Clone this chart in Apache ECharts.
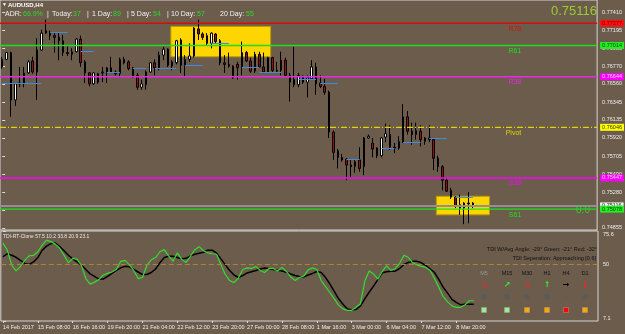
<!DOCTYPE html>
<html>
<head>
<meta charset="utf-8">
<script src="https://cdn.jsdelivr.net/npm/echarts@6/dist/echarts.min.js"></script>
<style>
  html, body { margin: 0; padding: 0; background: #6c5c4c; }
  #chart { width: 625px; height: 334px; }
</style>
</head>
<body>
<div id="chart"></div>
<script>
// AUDUSD H4 candles, 14 Feb 2017 00:00 .. 9 Mar 2017 12:00
const opens = [
  0.7676, 0.7685, 0.7693, 0.7637, 0.7656, 0.7656, 0.7669, 0.7683, 0.7670, 0.7696,
  0.7716, 0.7717, 0.7713, 0.7711, 0.7707, 0.7693, 0.7691, 0.7694, 0.7709, 0.7682,
  0.7669, 0.7656, 0.7668, 0.7669, 0.7670, 0.7675, 0.7670, 0.7668, 0.7685, 0.7682,
  0.7675, 0.7666, 0.7652, 0.7655, 0.7670, 0.7681, 0.7675, 0.7690, 0.7697, 0.7677,
  0.7681, 0.7708, 0.7678, 0.7685, 0.7689, 0.7721, 0.7715, 0.7713, 0.7704, 0.7715,
  0.7707, 0.7681, 0.7679, 0.7677, 0.7679, 0.7676, 0.7693, 0.7683, 0.7671, 0.7691,
  0.7676, 0.7670, 0.7687, 0.7672, 0.7672, 0.7684, 0.7666, 0.7661, 0.7655, 0.7665,
  0.7658, 0.7662, 0.7676, 0.7657, 0.7653, 0.7646, 0.7599, 0.7577, 0.7569, 0.7567,
  0.7560, 0.7558, 0.7566, 0.7558, 0.7592, 0.7586, 0.7580, 0.7571, 0.7593, 0.7596,
  0.7581, 0.7580, 0.7587, 0.7617, 0.7600, 0.7596, 0.7600, 0.7588, 0.7592, 0.7590,
  0.7568, 0.7558, 0.7542, 0.7530, 0.7522, 0.7513, 0.7509, 0.7515, 0.7515
];
const closes = [
  0.7685, 0.7693, 0.7637, 0.7656, 0.7657, 0.7669, 0.7682, 0.7670, 0.7696, 0.7716,
  0.7719, 0.7713, 0.7711, 0.7707, 0.7693, 0.7692, 0.7694, 0.7709, 0.7681, 0.7669,
  0.7656, 0.7669, 0.7658, 0.7670, 0.7675, 0.7670, 0.7668, 0.7685, 0.7681, 0.7674,
  0.7664, 0.7652, 0.7656, 0.7670, 0.7681, 0.7675, 0.7690, 0.7697, 0.7678, 0.7682,
  0.7707, 0.7678, 0.7685, 0.7689, 0.7722, 0.7715, 0.7711, 0.7704, 0.7716, 0.7706,
  0.7681, 0.7679, 0.7677, 0.7663, 0.7675, 0.7693, 0.7683, 0.7671, 0.7691, 0.7676,
  0.7670, 0.7687, 0.7672, 0.7671, 0.7684, 0.7666, 0.7658, 0.7655, 0.7666, 0.7658,
  0.7663, 0.7676, 0.7656, 0.7653, 0.7646, 0.7599, 0.7575, 0.7569, 0.7566, 0.7560,
  0.7558, 0.7564, 0.7556, 0.7592, 0.7594, 0.7579, 0.7571, 0.7592, 0.7597, 0.7581,
  0.7580, 0.7588, 0.7617, 0.7600, 0.7596, 0.7601, 0.7590, 0.7592, 0.7590, 0.7568,
  0.7558, 0.7542, 0.7529, 0.7522, 0.7512, 0.7509, 0.7515, 0.7514, 0.75116
];
const lows = [
  0.7674, 0.7684, 0.7617, 0.7630, 0.7652, 0.7652, 0.7668, 0.7668, 0.7637, 0.7695,
  0.7715, 0.7708, 0.7693, 0.7684, 0.7689, 0.7689, 0.7684, 0.7693, 0.7676, 0.7657,
  0.7653, 0.7655, 0.7656, 0.7658, 0.7657, 0.7669, 0.7666, 0.7664, 0.7679, 0.7672,
  0.7663, 0.7649, 0.7649, 0.7649, 0.7669, 0.7666, 0.7672, 0.7684, 0.7676, 0.7672,
  0.7679, 0.7669, 0.7664, 0.7682, 0.7687, 0.7708, 0.7708, 0.7702, 0.7698, 0.7704,
  0.7678, 0.7669, 0.7675, 0.7662, 0.7661, 0.7666, 0.7682, 0.7669, 0.7669, 0.7675,
  0.7669, 0.7669, 0.7670, 0.7669, 0.7666, 0.7664, 0.7635, 0.7652, 0.7652, 0.7656,
  0.7640, 0.7661, 0.7643, 0.7651, 0.7643, 0.7592, 0.7566, 0.7556, 0.7564, 0.7542,
  0.7545, 0.7551, 0.7552, 0.7548, 0.7591, 0.7569, 0.7568, 0.7569, 0.7587, 0.7578,
  0.7574, 0.7578, 0.7586, 0.7596, 0.7584, 0.7590, 0.7582, 0.7584, 0.7587, 0.7554,
  0.7552, 0.7530, 0.7528, 0.7520, 0.7509, 0.7501, 0.7490, 0.7491, 0.7509
];
const highs = [
  0.7688, 0.7694, 0.7694, 0.7657, 0.7676, 0.7676, 0.7684, 0.7688, 0.7710, 0.7720,
  0.7732, 0.7719, 0.7716, 0.7717, 0.7714, 0.7702, 0.7698, 0.7710, 0.7713, 0.7684,
  0.7670, 0.7670, 0.7669, 0.7676, 0.7676, 0.7688, 0.7672, 0.7687, 0.7688, 0.7684,
  0.7676, 0.7669, 0.7661, 0.7672, 0.7682, 0.7685, 0.7694, 0.7700, 0.7698, 0.7684,
  0.7708, 0.7710, 0.7690, 0.7704, 0.7723, 0.7732, 0.7717, 0.7716, 0.7717, 0.7716,
  0.7709, 0.7690, 0.7693, 0.7678, 0.7682, 0.7706, 0.7695, 0.7687, 0.7694, 0.7694,
  0.7693, 0.7688, 0.7688, 0.7682, 0.7694, 0.7687, 0.7669, 0.7700, 0.7669, 0.7666,
  0.7666, 0.7684, 0.7681, 0.7666, 0.7662, 0.7648, 0.7601, 0.7579, 0.7573, 0.7568,
  0.7566, 0.7566, 0.7581, 0.7593, 0.7596, 0.7592, 0.7581, 0.7593, 0.7609, 0.7607,
  0.7586, 0.7594, 0.7632, 0.7624, 0.7610, 0.7610, 0.7607, 0.7593, 0.7607, 0.7592,
  0.7571, 0.7560, 0.7545, 0.7533, 0.7523, 0.7525, 0.7516, 0.7528, 0.7516
];

// TDI sub-window: green price line and black signal line
const tdiGreen = [
  66.4, 60.9, 49.7, 45.2, 48.6, 53.3, 56.7, 57.1, 59.8, 64.8,
  68.7, 67.5, 65.6, 62.5, 57.1, 51.4, 54.8, 54.0, 49.4, 39.4,
  35.2, 36.7, 38.6, 42.1, 43.3, 44.4, 46.3, 52.5, 53.3, 49.8,
  45.6, 39.4, 40.2, 49.4, 53.7, 55.4, 59.8, 61.4, 56.7, 52.5,
  59.0, 54.0, 51.7, 56.4, 61.4, 63.7, 60.6, 59.0, 58.3, 57.9,
  49.8, 42.5, 37.9, 36.3, 39.8, 46.3, 47.5, 47.1, 48.7, 45.6,
  44.0, 47.1, 47.1, 45.2, 47.9, 44.8, 40.6, 37.9, 40.2, 41.3,
  46.0, 47.5, 46.3, 37.9, 33.3, 28.6, 24.0, 19.0, 16.3, 15.2,
  15.2, 17.5, 20.2, 37.5, 45.2, 42.9, 39.0, 44.8, 49.0, 45.6,
  47.1, 51.0, 57.1, 55.4, 51.4, 49.8, 48.7, 47.9, 45.6, 39.4,
  32.5, 25.6, 21.7, 18.6, 17.5, 17.5, 19.4, 22.5, 22.5
];
const tdiBlack = [
  56.0, 58.3, 57.1, 55.6, 53.3, 50.9, 50.2, 52.1, 55.4, 61.0,
  64.1, 66.0, 66.4, 63.7, 60.6, 57.1, 54.4, 52.1, 49.7, 46.3,
  42.9, 41.0, 39.0, 39.0, 41.0, 43.3, 45.6, 47.5, 48.8, 48.3,
  46.3, 44.4, 42.5, 42.5, 44.0, 46.7, 51.4, 55.4, 56.4, 56.4,
  55.4, 54.4, 54.8, 56.7, 57.9, 58.7, 59.4, 61.0, 61.0, 58.7,
  54.4, 49.8, 45.6, 42.1, 40.2, 41.7, 43.7, 44.6, 45.6, 46.7,
  47.5, 47.1, 46.3, 45.8, 45.2, 44.2, 42.9, 41.7, 41.0, 40.6,
  42.1, 43.3, 44.8, 44.0, 40.2, 35.2, 29.6, 24.0, 19.8, 16.3,
  15.6, 15.9, 18.6, 24.0, 29.0, 33.6, 38.6, 43.8, 44.6, 45.0,
  45.0, 47.1, 50.2, 51.7, 52.5, 52.5, 51.4, 49.4, 46.7, 44.0,
  38.6, 32.7, 28.3, 23.6, 21.3, 19.4, 19.8, 19.9, 19.9
];

const priceTicks = [0.77410, 0.77195, 0.76980, 0.76770, 0.76560, 0.76345, 0.76135,
                    0.75920, 0.75705, 0.75490, 0.75280, 0.75065, 0.74855];
const tdiTicks = [7.1, 50, 75.6];
const timeLabels = ['14 Feb 2017', '15 Feb 08:00', '16 Feb 16:00', '19 Feb 20:00', '21 Feb 04:00',
                    '22 Feb 12:00', '23 Feb 20:00', '27 Feb 00:00', '28 Feb 08:00', '1 Mar 16:00',
                    '3 Mar 00:00', '6 Mar 04:00', '7 Mar 12:00', '8 Mar 20:00'];
const timeLabelStep = 8;

// fibonacci pivot levels
const levelNames = ['R78', 'R61', 'R38', 'Pivot', 'S38', 'S61'];
const levelValues = [0.77277, 0.77014, 0.76644, 0.76046, 0.75447, 0.75078];
const bidPrice = 0.75116;

// short blue session lines: start bar, end bar, price
const sessStart = [0, 11, 18, 24, 30, 35, 42, 48, 55, 59, 68, 73, 79, 87, 92, 98, 104];
const sessEnd   = [9, 15, 21, 27, 33, 40, 46, 52, 59, 64, 72, 77, 82, 90, 96, 102, 108];
const sessPrice = [0.7657, 0.7717, 0.7695, 0.7670, 0.7675, 0.7675, 0.7678, 0.7704, 0.7676,
                   0.7670, 0.7661, 0.7657, 0.7567, 0.7580, 0.7587, 0.7592, 0.7522];

// yellow range boxes
const boxStart = [38.7, 99.6];
const boxEnd = [61.6, 111.8];
const boxTop = [0.7724, 0.7523];
const boxBottom = [0.7688, 0.7501];

const adrLabels = ['ADR:', 'Today:', '1 Day:', '5 Day:', '10 Day:', '20 Day:'];
const adrValues = ['66.9%', '37', '89', '54', '57', '55'];
const tdiTitle = 'TDI-RT-Clone 57.5 10.2 33.8 20.9 23.1';
const tdiInfo = ['TDI W/Avg Angle: -29\u00b0 Green: -21\u00b0 Red: -32\u00b0', 'TDI Seperation: Approaching [0.6]'];
const tfNames = ['M5', 'M15', 'M30', 'H1', 'H4', 'D1'];
const tfArrows = ['\u2198', '\u2197', '\u2198', '\u2191', '\u2192', '\u2193'];
const tfArrowColors = ['#ff2020', '#33ee33', '#ff2020', '#33ee33', '#000000', '#ff2020'];
const tfSquareColors = ['#98ee98', '#98ee98', '#ffa500', '#ffa500', '#ff0000', '#ffa500'];

const FONT = '"Liberation Sans", Arial, sans-serif';
const BG = '#6c5c4c';
const SLOTS = 137;
const NAME_X = 522 / 598 * SLOTS - 0.5;   // right edge of the level names, in bar units

const chart = echarts.init(document.getElementById('chart'));

const bars = opens.map((o, i) => [i, o, closes[i], lows[i], highs[i]]);

const levelColors = ['#d80c0c', '#1ee01e', '#e828e8', '#e0d400', '#ff00ff', '#1ee01e'];
const levelTypes = ['solid', 'solid', 'solid', [6, 2, 1, 2], 'solid', 'solid'];
const tagColors = ['#ff1010', '#22ee22', '#ff00ff', '#ffff00', '#ff00ff', '#22ee22'];
const tagText = ['#5a0000', '#0a3a0a', '#ffd0ff', '#333300', '#ffd0ff', '#0a3a0a'];

const sessions = sessStart.map((s, i) => [
  { coord: [s, sessPrice[i]], lineStyle: { color: '#3d8ce0', width: 1, type: 'solid', opacity: 1 } },
  { coord: [sessEnd[i], sessPrice[i]] }
]);
const boxes = boxStart.map((s, i) => [
  { coord: [s, boxTop[i]], itemStyle: { color: '#ffd500', borderColor: '#b89a00', borderWidth: 1 } },
  { coord: [boxEnd[i], boxBottom[i]] }
]);

// horizontal level as a two-point line across the axis range, tagged on the price scale
function levelSeries(v, color, width, type, tagBg, tagFg, name) {
  const s = {
    type: 'line', xAxisIndex: 0, yAxisIndex: 0, silent: true, clip: false, z: 6,
    data: [[-0.5, v], [SLOTS - 0.5, v]], symbol: 'none',
    lineStyle: { color: color, width: width, type: type, opacity: 1 },
    endLabel: { show: true, formatter: () => v.toFixed(5), distance: 3,
                backgroundColor: tagBg, color: tagFg, fontSize: 5.5, fontFamily: FONT, padding: [1, 2, 0, 2] }
  };
  if (name) {
    s.markPoint = {
      silent: true, symbol: 'circle', symbolSize: 0, itemStyle: { color: 'rgba(0,0,0,0)' },
      data: [{ coord: [NAME_X, v] }],
      label: { show: true, formatter: name, position: [0, 2], align: 'right', verticalAlign: 'top',
               color: color, fontSize: 7, fontFamily: FONT }
    };
  }
  return s;
}
const levelSeriesList = levelValues.map((v, i) =>
  levelSeries(v, levelColors[i], i === 4 ? 1.5 : 1.3, levelTypes[i], tagColors[i], tagText[i], levelNames[i]));
levelSeriesList.unshift(levelSeries(bidPrice, '#909090', 2, 'solid', '#f4f4f4', '#222222', null));

// overlay texts
const g = [];
function txt(x, y, text, fill, font, align) {
  g.push({ type: 'text', x: x, y: y, z: 100, silent: true,
           style: { text: text, fill: fill, font: font, align: align || 'left', verticalAlign: 'middle' } });
}
txt(2, 5, '\u25bc', '#ffffff', '5px ' + FONT);
txt(8, 5, 'AUDUSD,H4', '#ffffff', 'bold 6px ' + FONT);
const adrLabelX = [5, 52, 92, 131, 171, 220];
const adrValueX = [23, 73, 113, 153, 197, 246];
const sepX = [47, 87, 127, 167];
adrLabels.forEach((l, i) => {
  txt(adrLabelX[i], 14.5, l, '#f2f2f2', '7px ' + FONT);
  txt(adrValueX[i], 14.5, adrValues[i], '#2fd82f', '7px ' + FONT);
});
sepX.forEach(x => txt(x, 14.5, '|', '#f2f2f2', '7px ' + FONT));
txt(597, 11, bidPrice.toFixed(5), '#9acd32', '13px ' + FONT, 'right');
txt(583, 210, '0.0', '#33cc33', '10px ' + FONT, 'center');
txt(3, 237, tdiTitle, '#e8e8e8', '5px ' + FONT);
txt(597, 249, tdiInfo[0], '#111111', '5.5px ' + FONT, 'right');
txt(596, 258, tdiInfo[1], '#111111', '5.5px ' + FONT, 'right');
const colX = [484, 507, 527, 547, 566, 585];
tfNames.forEach((n, i) => {
  txt(colX[i], 273, n, i === 0 ? '#959595' : '#111111', '5.5px ' + FONT, 'center');
  txt(colX[i], 285, tfArrows[i], tfArrowColors[i], 'bold 8px "DejaVu Sans", sans-serif', 'center');
  g.push({ type: 'circle', z: 100, silent: true, shape: { cx: colX[i], cy: 297, r: i === 4 ? 1 : 2.5 },
           style: { fill: '#5a5a5a' } });
  g.push({ type: 'rect', z: 100, silent: true, shape: { x: colX[i] - 2.5, y: 307.5, width: 5, height: 5 },
           style: { fill: tfSquareColors[i], stroke: '#a89c8c', lineWidth: 0.5 } });
});

const labelTicks = timeLabels.map((t, i) => i * timeLabelStep);

chart.setOption({
  animation: false,
  backgroundColor: BG,
  textStyle: { fontFamily: FONT },
  grid: [
    { left: 0, right: 27, top: 0, height: 230, show: true, backgroundColor: BG,
      borderColor: '#d6d6d6', borderWidth: 1 },
    { left: 0, right: 27, top: 231, height: 90, show: true, backgroundColor: BG,
      borderColor: '#d6d6d6', borderWidth: 1 }
  ],
  xAxis: [
    { gridIndex: 0, type: 'value', min: -0.5, max: SLOTS - 0.5, show: false },
    { gridIndex: 1, type: 'value', min: -0.5, max: SLOTS - 0.5,
      axisLine: { show: false }, splitLine: { show: false },
      axisTick: { show: true, customValues: labelTicks, length: 2, lineStyle: { color: '#dddddd' } },
      axisLabel: { customValues: labelTicks, formatter: v => timeLabels[Math.round(v / timeLabelStep)],
                   align: 'left', color: '#eeeeee', fontSize: 5.5, margin: 3, fontFamily: FONT } }
  ],
  yAxis: [
    { gridIndex: 0, type: 'value', position: 'right', min: 0.74831, max: 0.77552,
      axisLine: { show: false }, splitLine: { show: false },
      axisTick: { show: true, customValues: priceTicks, length: 3, lineStyle: { color: '#dddddd' } },
      axisLabel: { customValues: priceTicks, formatter: v => v.toFixed(5), color: '#eeeeee',
                   fontSize: 5.5, margin: 5, fontFamily: FONT } },
    { gridIndex: 1, type: 'value', position: 'right', min: 7.1, max: 75.6,
      axisLine: { show: false }, splitLine: { show: false },
      axisTick: { show: true, customValues: tdiTicks, length: 3, lineStyle: { color: '#dddddd' } },
      axisLabel: { customValues: tdiTicks, formatter: v => String(v), color: '#eeeeee',
                   fontSize: 5.5, margin: 5, fontFamily: FONT,
                   verticalAlignMinLabel: 'bottom', verticalAlignMaxLabel: 'top' } }
  ],
  series: [
    {
      type: 'candlestick', xAxisIndex: 0, yAxisIndex: 0, data: bars,
      encode: { x: 0, y: [1, 2, 3, 4] }, barWidth: 2, clip: false,
      itemStyle: { color: '#ffffff', color0: '#9e0a0a', borderColor: '#000000', borderColor0: '#000000', borderWidth: 1 },
      markArea: { silent: true, data: boxes },
      markLine: {
        silent: true, symbol: ['none', 'none'], animation: false, precision: 5,
        label: { show: false },
        data: sessions
      }
    },
    ...levelSeriesList,
    {
      type: 'line', xAxisIndex: 1, yAxisIndex: 1, data: tdiBlack.map((v, i) => [i, v]),
      symbol: 'none', lineStyle: { color: '#000000', width: 1.5 },
      markLine: { silent: true, symbol: ['none', 'none'], label: { show: false }, precision: 2,
                  data: [{ yAxis: 50, lineStyle: { color: '#b08232', width: 1.2, type: [5, 3], opacity: 1 } }] }
    },
    {
      type: 'line', xAxisIndex: 1, yAxisIndex: 1, data: tdiGreen.map((v, i) => [i, v]),
      symbol: 'none', lineStyle: { color: '#33dd33', width: 1.2 }
    }
  ],
  graphic: g
});
</script>
</body>
</html>
